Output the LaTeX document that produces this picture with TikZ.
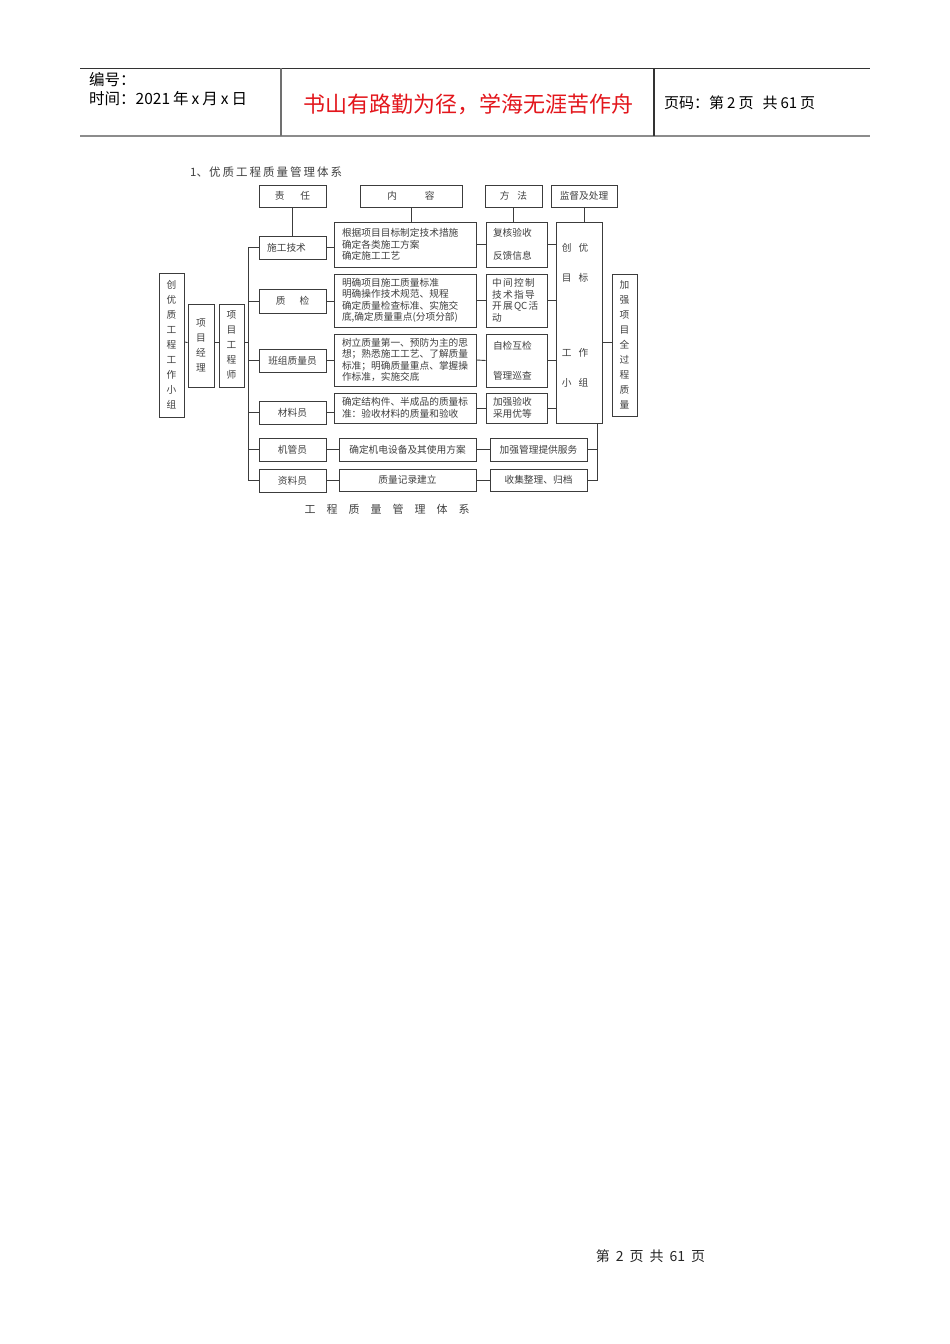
\documentclass[tikz,border=0pt]{standalone}
\usepackage{fontspec}
\setmainfont{Noto Sans CJK SC}
\definecolor{linecol}{HTML}{3C3C3C}
\definecolor{txtcol}{HTML}{404040}
\definecolor{hdrgray}{HTML}{8C8C8C}
\definecolor{titlered}{HTML}{E3161C}
\newcommand{\dfont}{\fontsize{9.7}{11.5}\selectfont}
\newcommand{\gp}{\kern1.3pt}
\tikzset{
  box/.style={draw=linecol, line width=0.9pt, inner sep=0pt, font=\dfont, text=txtcol, align=center},
  lbox/.style={box, align=left, inner xsep=7pt},
  conn/.style={draw=linecol, line width=0.9pt},
  vbox/.style={box, font=\fontsize{9.7}{15}\selectfont},
  plain/.style={inner sep=0pt, text=txtcol, font=\dfont}
}
\begin{document}
\begin{tikzpicture}[x=1pt,y=-1pt]
\useasboundingbox (0,0) rectangle (950,1344);
\fill[white] (0,0) rectangle (950,1344);

% ---------- header ----------
\coordinate (hTL) at (80,68);
\coordinate (hTR) at (870,68);
\coordinate (hBL) at (80,136);
\coordinate (hBR) at (870,136);
\coordinate (d1t) at (281,68);
\coordinate (d1b) at (281,136);
\coordinate (d2t) at (654,68);
\coordinate (d2b) at (654,136);
\draw[line width=1pt, draw=black!80] (hTL) -- (hTR);
\draw[line width=2pt, draw=hdrgray] (hBL) -- (hBR);
\draw[line width=1.2pt, draw=hdrgray!80!black] (d1t) -- (d1b);
\draw[line width=1.2pt, draw=black!80] (d2t) -- (d2b);
\node[anchor=west, inner sep=0pt, font=\fontsize{15.5}{15.5}\selectfont] (bh) at (89,80) {编号：};
\node[anchor=west, inner sep=0pt, font=\fontsize{15.5}{15.5}\selectfont] (sj) at (89,99)
  {时间：2021\hspace{3pt}年\hspace{3pt}x\hspace{3pt}月\hspace{3pt}x\hspace{3pt}日};
\node[inner sep=0pt, font=\fontsize{22}{22}\selectfont, text=titlered] (tt) at (468,104) {书山有路勤为径，学海无涯苦作舟};
\node[anchor=west, inner sep=0pt, font=\fontsize{15}{15}\selectfont] (ym) at (664,103)
  {页码：第\hspace{3pt}2\hspace{3pt}页\hspace{9pt}共\hspace{3pt}61\hspace{3pt}页};

% ---------- diagram title ----------
\node[anchor=west, inner sep=0pt, font=\fontsize{11.5}{11.5}\selectfont, text=txtcol] (dt) at (190,172)
  {1、\kern1pt 优\kern2pt 质\kern2pt 工\kern2pt 程\kern2pt 质\kern2pt 量\kern2pt 管\kern2pt 理\kern2pt 体\kern2pt 系};

% ---------- header boxes ----------
\node[box, minimum width=67, minimum height=22] (zr) at (292.5,196) {责\hspace{16pt}任};
\node[box, minimum width=102, minimum height=22] (nr) at (411,196) {内\hspace{28pt}容};
\node[box, minimum width=57, minimum height=22] (ff) at (513.5,196) {方\hspace{8pt}法};
\node[box, minimum width=66, minimum height=22] (jd) at (584,196) {监督及处理};

% ---------- role boxes ----------
\node[box, minimum width=67, minimum height=23] (sg) at (292.5,247.5) {\hspace{-12pt}施工技术};
\node[box, minimum width=67, minimum height=24] (zj) at (292.5,301) {质\hspace{14pt}检};
\node[box, minimum width=67, minimum height=23] (bz) at (292.5,360.5) {班组质量员};
\node[box, minimum width=67, minimum height=23] (cl) at (292.5,412.5) {材料员};
\node[box, minimum width=67, minimum height=23] (jg) at (292.5,449.5) {机管员};
\node[box, minimum width=67, minimum height=23] (zl) at (292.5,480.5) {资料员};

% ---------- content boxes ----------
\node[lbox, inner xsep=8pt, minimum width=142, minimum height=45, text width=126] (c1) at (405,244.5)
  {根据项目目标制定技术措施\\确定各类施工方案\\确定施工工艺};
\node[lbox, inner xsep=8pt, minimum width=142, minimum height=53, text width=126] (c2) at (405,300.5)
  {明确项目施工质量标准\\明确操作技术规范、规程\\确定质量检查标准、实施交\\底,确定质量重点(分项分部)};
\node[lbox, inner xsep=8pt, minimum width=142, minimum height=52, text width=126] (c3) at (405,360)
  {树立质量第一、预防为主的思\\想；熟悉施工工艺、了解质量\\标准；明确质量重点、掌握操\\作标准，实施交底};
\node[lbox, inner xsep=8pt, minimum width=142, minimum height=30, text width=126] (c4) at (405,408)
  {确定结构件、半成品的质量标\\准：验收材料的质量和验收};
\node[box, minimum width=137, minimum height=23] (c5) at (407.5,449.5) {确定机电设备及其使用方案};
\node[box, minimum width=137, minimum height=22] (c6) at (407.5,480) {质量记录建立};

% ---------- method boxes ----------
\node[lbox, minimum width=61, minimum height=45, text width=47] (m1) at (516.5,244.5)
  {复核验收\\[11pt]反馈信息};
\node[lbox, inner xsep=6pt, minimum width=61, minimum height=53, text width=49] (m2) at (516.5,300.5)
  {中\gp 间\gp 控\gp 制\\技\gp 术\gp 指\gp 导\\开\gp 展\gp QC\gp 活\\动};
\node[lbox, minimum width=61, minimum height=53, text width=47] (m3) at (516.5,360.5)
  {自检互检\\[18.5pt]管理巡查};
\node[lbox, minimum width=61, minimum height=30, text width=47] (m4) at (516.5,408)
  {加强验收\\采用优等};
\node[box, minimum width=97, minimum height=23] (m5) at (538.5,449.5) {加强管理提供服务};
\node[box, minimum width=97, minimum height=22] (m6) at (538.5,480) {收集整理、归档};

% ---------- supervision tall box ----------
\node[box, minimum width=46, minimum height=201] (tb) at (579,322.5) {};
\node[plain] (tb1) at (575,248) {创\hspace{7pt}优};
\node[plain] (tb2) at (575,278) {目\hspace{7pt}标};
\node[plain] (tb3) at (575,353) {工\hspace{7pt}作};
\node[plain] (tb4) at (575,383) {小\hspace{7pt}组};

% ---------- right box ----------
\node[vbox, minimum width=25, minimum height=142] (rb) at (624.5,345)
  {加\\强\\项\\目\\全\\过\\程\\质\\量};

% ---------- left boxes ----------
\node[vbox, minimum width=25, minimum height=144] (lg) at (171.5,345)
  {创\\优\\质\\工\\程\\工\\作\\小\\组};
\node[vbox, minimum width=26, minimum height=83] (pm) at (201,345.5)
  {项\\目\\经\\理};
\node[vbox, minimum width=25, minimum height=83] (pe) at (231.5,345.5)
  {项\\目\\工\\程\\师};

% ---------- connectors ----------
\draw[conn] ([yshift=3pt]lg.east) -- ([yshift=3pt]pm.west);
\draw[conn] ([yshift=3pt]pm.east) -- ([yshift=3pt]pe.west);
\draw[conn] ([yshift=3pt]pe.east) -- ++(5,0);
% spine
\draw[conn] (sg.west) -- ++(-10,0) |- (zl.west);
\draw[conn] (zj.west) -- ++(-10,0);
\draw[conn] (bz.west) -- ++(-10,0);
\draw[conn] (cl.west) -- ++(-10,0);
\draw[conn] (jg.west) -- ++(-10,0);
% header links
\draw[conn] (zr.south) -- (sg.north);
\draw[conn] (nr.south) -- (nr.south |- c1.north);
\draw[conn] (ff.south) -- (ff.south |- m1.north);
\draw[conn] (jd.south) -- (jd.south |- tb.north);
% rows
\draw[conn] (sg.east) -- (sg.east -| c1.west);
\draw[conn] (c1.east) -- (m1.west);
\draw[conn] (m1.east) -- (m1.east -| tb.west);
\draw[conn] (zj.east) -- (zj.east -| c2.west);
\draw[conn] (c2.east) -- (m2.west);
\draw[conn] (m2.east) -- (m2.east -| tb.west);
\draw[conn] (bz.east) -- (bz.east -| c3.west);
\draw[conn] (c3.east) -- (m3.west);
\draw[conn] (m3.east) -- (m3.east -| tb.west);
\draw[conn] (cl.east) -- (cl.east -| c4.west);
\draw[conn] (c4.east) -- (m4.west);
\draw[conn] (m4.east) -- (m4.east -| tb.west);
\draw[conn] (jg.east) -- (jg.east -| c5.west);
\draw[conn] (c5.east) -- (c5.east -| m5.west);
\draw[conn] (zl.east) -- (zl.east -| c6.west);
\draw[conn] (c6.east) -- (c6.east -| m6.west);
\coordinate (tbb) at ([xshift=-5pt]tb.south east);
\draw[conn] (tbb) |- (m6.east);
\draw[conn] (m5.east) -- (m5.east -| tbb);
\coordinate (rbc) at ([yshift=3pt]rb.west);
\draw[conn] (rbc) -- (rbc -| tb.east);

% ---------- caption ----------
\node[inner sep=0pt, font=\fontsize{11}{11}\selectfont, text=txtcol] (cap) at (387,509)
  {工\hspace{11pt}程\hspace{11pt}质\hspace{11pt}量\hspace{11pt}管\hspace{11pt}理\hspace{11pt}体\hspace{11pt}系};

% ---------- footer ----------
\node[inner sep=0pt, font=\fontsize{14}{14}\selectfont, text=black!85] (ft) at (650.5,1256)
  {第\hspace{6pt}2\hspace{6pt}页\hspace{6pt}共\hspace{6pt}61\hspace{6pt}页};
\end{tikzpicture}
\end{document}
